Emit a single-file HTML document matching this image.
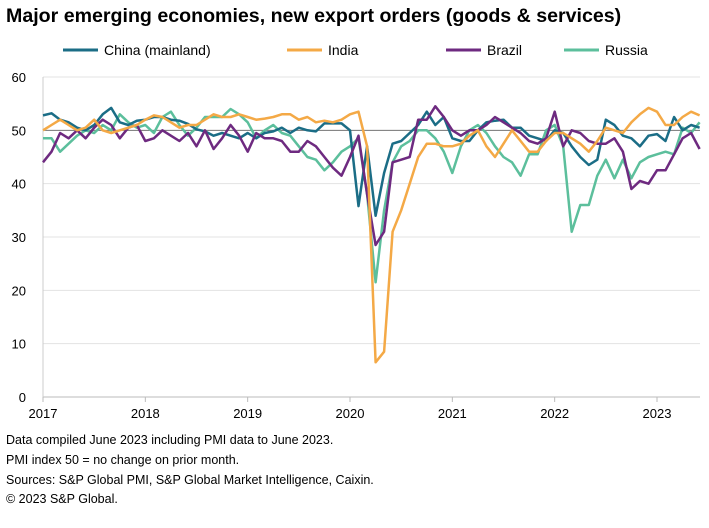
<!DOCTYPE html>
<html><head><meta charset="utf-8"><style>
body{margin:0;background:#fff;font-family:"Liberation Sans",Arial,sans-serif;}
#wrap{position:relative;width:709px;height:528px;overflow:hidden}
.t{position:absolute;white-space:nowrap;color:#000}
</style></head><body>
<div id="wrap">
<div class="t" style="left:6px;top:5px;font-size:19.6px;font-weight:bold">Major emerging economies, new export orders (goods &amp; services)</div>
<svg id="chart" width="709" height="528" style="position:absolute;left:0;top:0"></svg>
<div class="t" style="left:6px;top:433px;font-size:12.5px">Data compiled June 2023 including PMI data to June 2023.</div>
<div class="t" style="left:6px;top:453px;font-size:12.5px">PMI index 50 = no change on prior month.</div>
<div class="t" style="left:6px;top:473px;font-size:12.5px">Sources: S&amp;P Global PMI, S&amp;P Global Market Intelligence, Caixin.</div>
<div class="t" style="left:6px;top:492px;font-size:12.5px">© 2023 S&amp;P Global.</div>
</div>
<script>
const yTicks=[0,10,20,30,40,50,60];
const xLabels=["2017","2018","2019","2020","2021","2022","2023"];
const seriesNames=["China (mainland)","India","Brazil","Russia"];
const china=[52.8,53.2,52,51.5,50.5,50,51,53,54.2,51.5,51,51.8,
52,52.5,52.5,52,51.8,51.2,50.2,49.8,49,49.5,49,48.5,
49.5,48.5,49.5,49.8,50.5,49.5,50.5,50,49.8,51.3,51.3,51.3,
50,35.8,47,34,42,47.5,48,49.5,51,53.5,51,52.5,
48.5,48,48,50,51.5,51.8,52,50.5,50.5,49,48.5,48,
50,49.5,47,45,43.5,44.5,52,51,49,48.5,47,49,
49.3,48,52.5,50,51,50.5];
const india=[50,51,52,51,50,50.5,52,50,49.5,50,50.5,51,
52,52.8,52.5,51.5,50.5,51,51,52,53,52.5,52.5,53,
52.5,52,52.2,52.5,53,53,52,52.5,51.5,51.8,51.5,52,
53,53.5,47,6.5,8.5,31,35,40,45,47.5,47.5,47,
47,47.5,49,50,47,45,47.5,50,48,46,46,48,
49.5,49.5,48.5,47.5,46,48,50.5,50,49.5,51.5,53,54.2,
53.5,51,51,52.5,53.5,52.8];
const brazil=[44,46,49.5,48.5,50,48.5,50.5,52,51,48.5,50.5,51,
48,48.5,50,49,48,49.5,47,50,46.5,48.5,51,49,
46,49.5,48.5,48.5,48,46,46,48,47,45,43,41.5,
45,49,38,28.5,31,44,44.5,45,52,52,54.5,52.5,
50,49,50,50,51,52.5,51.5,50.5,49.5,48,47.5,48.5,
53.5,47,50,49.5,48,47.5,47.5,48.5,46,39,40.5,40,
42.5,42.5,45.5,48.5,49.5,46.5];
const russia=[48.5,48.5,46,47.5,49,50,49.5,51,50,53,51.5,50.5,
51,49.5,52.5,53.5,51,49,50.5,52.5,52.5,52.5,54,53,
51.5,48.5,50,51,49.5,49,47,45,44.5,42.5,44,46,
47,48.5,38,21.5,35,44,47,48,50,50,48.5,46,
42,47,50,51,49.5,47,45,44,41.5,45.5,45.5,50,
51,47,31,36,36,41.5,44.5,41,44.5,41,44,45,
45.5,46,45.5,50.5,49.5,51.5];
const allSeries=[china,india,brazil,russia];
const colors=["#1b6d86","#f4a946","#6e2a80","#5cbf9c"];
const ns="http://www.w3.org/2000/svg";
const svg=document.getElementById('chart');
const X0=43,X1=700,Y0=397,Y60=77;
const y=v=>Y0-(v/60)*(Y0-Y60);
const pxPerMonth=(657-43)/72;
const x=i=>X0+i*pxPerMonth;
function mk(tag,attrs){const e=document.createElementNS(ns,tag);for(const k in attrs)e.setAttribute(k,attrs[k]);svg.appendChild(e);return e;}
yTicks.forEach(t=>{
 if(t>0){const g=mk('line',{x1:X0,x2:X1,y1:y(t),y2:y(t),stroke:'#e3e3e3','stroke-width':1});
 
 }
 const tx=mk('text',{x:26,y:y(t)+5,'text-anchor':'end','font-size':13,'font-family':'Liberation Sans, sans-serif'});
 tx.textContent=t;
 
 
});
const ref=mk('line',{x1:X0,x2:X1,y1:y(50),y2:y(50),stroke:'#777','stroke-width':1});


const ax=mk('line',{x1:X0,x2:X1,y1:Y0,y2:Y0,stroke:'#bbb','stroke-width':1});


const ay=mk('line',{x1:X0,x2:X0,y1:Y60,y2:Y0,stroke:'#ccc','stroke-width':1});


xLabels.forEach((l,i)=>{
 const tk=mk('line',{x1:x(i*12),x2:x(i*12),y1:Y0,y2:Y0+5,stroke:'#bbb'});
 
 
 const tx=mk('text',{x:x(i*12),y:418,'text-anchor':'middle','font-size':13,'font-family':'Liberation Sans, sans-serif'});
 tx.textContent=l;
 
 
});
[3,0,2,1].forEach(s=>{
 const d=allSeries[s].map((v,i)=>(i?'L':'M')+x(i).toFixed(1)+' '+y(v).toFixed(1)).join(' ');
 const p=mk('path',{d:d,fill:'none',stroke:colors[s],'stroke-width':2.5,'stroke-linejoin':'round'});
 
 
});
const legX=[63,287,446,564];
seriesNames.forEach((n,i)=>{
 const l=mk('line',{x1:legX[i],x2:legX[i]+35,y1:50,y2:50,stroke:colors[i],'stroke-width':3});
 
 
 const t=mk('text',{x:legX[i]+41,y:55,'font-size':14,'font-family':'Liberation Sans, sans-serif'});
 t.textContent=n;
 
 
});
</script>
</body></html>
